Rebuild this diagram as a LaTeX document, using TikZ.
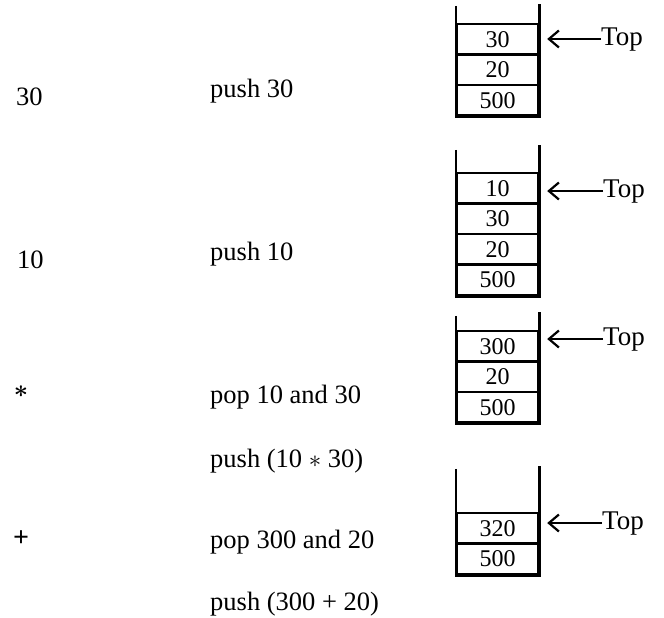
\documentclass[tikz,border=0pt]{standalone}
\usepackage{fontspec}
\setmainfont{Liberation Serif}
\usetikzlibrary{arrows.meta}
\begin{document}
\begin{tikzpicture}[x=1pt,y=-1pt,
  cell/.style={draw, line width=2.4pt, minimum width=81pt, minimum height=30.5pt, inner sep=0pt, font=\fontsize{24}{24}\selectfont},
  wall/.style={line width=2.6pt, line join=miter},
  toplbl/.style={anchor=west, inner sep=0pt, font=\fontsize{27}{27}\selectfont},
  toparrow/.style={line width=2.2pt, -{Straight Barb[length=10pt,width=17pt,line width=2.2pt]}, shorten >=8pt},
  lbl/.style={anchor=base west, inner sep=0pt, font=\fontsize{26.5}{26.5}\selectfont},
  sym/.style={inner sep=0pt, font=\fontsize{28}{28}\selectfont\boldmath\bfseries}]
\useasboundingbox (0,0) rectangle (664,618);

% ---- left column: symbols ----
\node[lbl] (sym1) at (16,106) {30};
\node[lbl] (sym2) at (17,268) {10};
\node[sym] (sym3) at (21,392) {$\ast$};
\node[sym] (sym4) at (21,539) {+};

% ---- middle column: operations ----
\node[lbl] (op1) at (210,97) {push 30};
\node[lbl] (op2) at (210,260) {push 10};
\node[lbl] (op3a) at (210,403) {pop 10 and 30};
\node[lbl] (op3b) at (210,467) {push (10 $\ast$ 30)};
\node[lbl] (op4a) at (210,548) {pop 300 and 20};
\node[lbl] (op4b) at (210,610) {push (300 + 20)};

% ---- stack 1 ----
\node[cell] (s1a) at (497.5,39.25) {30};
\node[cell] (s1b) at (497.5,69.75) {20};
\node[cell] (s1c) at (497.5,100.25) {500};
\draw[wall] ([yshift=17pt]s1a.north west) -- (s1c.south west) -- (s1c.south east) -- ([yshift=19pt]s1a.north east);
\node[toplbl] (t1) at (601,40) {Top};
\draw[toparrow] ([yshift=1pt]t1.west) -- ([yshift=1pt]t1.west -| s1a.east);

% ---- stack 2 ----
\node[cell] (s2a) at (497.5,188.25) {10};
\node[cell] (s2b) at (497.5,218.75) {30};
\node[cell] (s2c) at (497.5,249.25) {20};
\node[cell] (s2d) at (497.5,279.75) {500};
\draw[wall] ([yshift=22pt]s2a.north west) -- (s2d.south west) -- (s2d.south east) -- ([yshift=27pt]s2a.north east);
\node[toplbl] (t2) at (603,192) {Top};
\draw[toparrow] ([yshift=1pt]t2.west) -- ([yshift=1pt]t2.west -| s2a.east);

% ---- stack 3 ----
\node[cell] (s3a) at (497.5,346.25) {300};
\node[cell] (s3b) at (497.5,376.75) {20};
\node[cell] (s3c) at (497.5,407.25) {500};
\draw[wall] ([yshift=14pt]s3a.north west) -- (s3c.south west) -- (s3c.south east) -- ([yshift=18pt]s3a.north east);
\node[toplbl] (t3) at (603,340) {Top};
\draw[toparrow] ([yshift=1pt]t3.west) -- ([yshift=1pt]t3.west -| s3a.east);

% ---- stack 4 ----
\node[cell] (s4a) at (497.5,528.25) {320};
\node[cell] (s4b) at (497.5,558.75) {500};
\draw[wall] ([yshift=43pt]s4a.north west) -- (s4b.south west) -- (s4b.south east) -- ([yshift=46pt]s4a.north east);
\node[toplbl] (t4) at (602,524) {Top};
\draw[toparrow] ([yshift=1pt]t4.west) -- ([yshift=1pt]t4.west -| s4a.east);
\end{tikzpicture}
\end{document}
